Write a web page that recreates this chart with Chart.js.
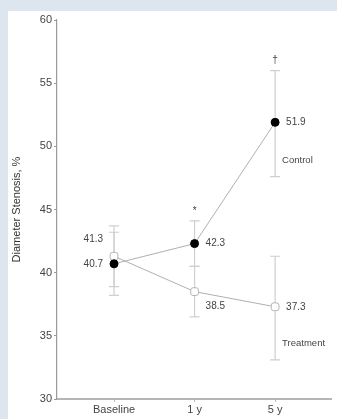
<!DOCTYPE html>
<html>
<head>
<meta charset="utf-8">
<script src="https://cdn.jsdelivr.net/npm/chart.js@4.4.0/dist/chart.umd.min.js"></script>
<style>
  html, body { margin: 0; padding: 0; background: #dde5ef; }
  #wrap { width: 337px; height: 419px; position: relative; }
</style>
</head>
<body>
<div id="wrap"><canvas id="stenosis" width="337" height="419"></canvas></div>
<script>
"use strict";

// data
var categories = ["Baseline", "1 y", "5 y"];
var controlMean = [40.7, 42.3, 51.9];
var controlLow = [38.2, 40.5, 47.6];
var controlHigh = [43.2, 44.1, 56.0];
var treatMean = [41.3, 38.5, 37.3];
var treatLow = [38.9, 36.5, 33.1];
var treatHigh = [43.7, 40.5, 41.3];
var sigMarks = ["", "*", "\u2020"];
var yTicks = [30, 35, 40, 45, 50, 55, 60];

var FONT = "'Liberation Sans', Arial, sans-serif";

function toPoints(arr) {
  return arr.map(function (v, i) { return { x: i, y: v }; });
}

// white panel behind the plot
var panelPlugin = {
  id: "panel",
  beforeDraw: function (chart) {
    var ctx = chart.ctx;
    ctx.save();
    ctx.fillStyle = "#ffffff";
    ctx.fillRect(8, 11, chart.width - 8, chart.height - 11);
    ctx.restore();
  }
};

// error bars, significance marks, value labels
var extrasPlugin = {
  id: "extras",
  beforeDatasetsDraw: function (chart) {
    var ctx = chart.ctx;
    var xs = chart.scales.x, ys = chart.scales.y;
    ctx.save();
    ctx.strokeStyle = "#cfcfcf";
    ctx.lineWidth = 1.2;
    [[controlLow, controlHigh], [treatLow, treatHigh]].forEach(function (pair) {
      for (var i = 0; i < categories.length; i++) {
        var x = xs.getPixelForValue(i);
        var y1 = ys.getPixelForValue(pair[0][i]);
        var y2 = ys.getPixelForValue(pair[1][i]);
        ctx.beginPath();
        ctx.moveTo(x, y1); ctx.lineTo(x, y2);
        ctx.moveTo(x - 5, y1); ctx.lineTo(x + 5, y1);
        ctx.moveTo(x - 5, y2); ctx.lineTo(x + 5, y2);
        ctx.stroke();
      }
    });
    ctx.restore();
  },
  afterDatasetsDraw: function (chart) {
    var ctx = chart.ctx;
    var xs = chart.scales.x, ys = chart.scales.y;
    ctx.save();
    ctx.fillStyle = "#444";
    ctx.font = "10px " + FONT;
    ctx.textBaseline = "middle";

    // significance marks above the upper whisker
    ctx.textAlign = "center";
    for (var i = 0; i < categories.length; i++) {
      if (!sigMarks[i]) continue;
      var top = Math.max(controlHigh[i], treatHigh[i]);
      ctx.fillText(sigMarks[i], xs.getPixelForValue(i), ys.getPixelForValue(top) - 10);
    }

    // value labels
    function label(val, i, dx, dy) {
      ctx.textAlign = dx < 0 ? "right" : "left";
      ctx.fillText(val.toFixed(1), xs.getPixelForValue(i) + dx, ys.getPixelForValue(val) + dy);
    }
    label(controlMean[0], 0, -11, 0);
    label(treatMean[0], 0, -11, -17);
    label(controlMean[1], 1, 11, 0);
    label(treatMean[1], 1, 11, 15);
    label(controlMean[2], 2, 11, 0);
    label(treatMean[2], 2, 11, 0);

    // series names
    ctx.font = "9.5px " + FONT;
    ctx.textAlign = "left";
    ctx.fillText("Control", xs.getPixelForValue(2) + 7, ys.getPixelForValue(controlMean[2]) + 38);
    ctx.fillText("Treatment", xs.getPixelForValue(2) + 7, ys.getPixelForValue(treatMean[2]) + 37);
    ctx.restore();
  }
};

var stenosis = document.getElementById("stenosis").getContext("2d");

var diagramStenosis = new Chart(stenosis, {
  type: "line",
  data: {
    datasets: [
      {
        label: "Control",
        data: toPoints(controlMean),
        borderColor: "#b0b0b0",
        borderWidth: 1,
        backgroundColor: "#000000",
        pointBackgroundColor: "#000000",
        pointBorderColor: "#000000",
        pointRadius: 4,
        pointStyle: "circle",
        tension: 0,
      },
      {
        label: "Treatment",
        data: toPoints(treatMean),
        borderColor: "#b0b0b0",
        borderWidth: 1,
        pointBackgroundColor: "#ffffff",
        pointBorderColor: "#b5b5b5",
        pointBorderWidth: 1,
        pointRadius: 4.5,
        pointStyle: "rectRounded",
        tension: 0,
      },
    ],
  },
  options: {
    responsive: false,
    animation: false,
    layout: { padding: { left: 10, top: 20, right: 0, bottom: 0 } },
    plugins: {
      legend: { display: false },
      tooltip: { enabled: false },
    },
    scales: {
      x: {
        type: "linear",
        min: -0.708,
        max: 2.70,
        afterBuildTicks: function (axis) {
          axis.ticks = categories.map(function (c, i) { return { value: i }; });
        },
        afterFit: function (axis) { axis.height = 20; },
        ticks: {
          callback: function (v) { return categories[v]; },
          color: "#444",
          font: { family: FONT, size: 11 },
          padding: 1,
          maxRotation: 0,
        },
        grid: {
          drawOnChartArea: false,
          drawTicks: true,
          tickLength: 3,
          color: "#bdbdbd",
        },
        border: { color: "#b5b5b5", width: 2 },
      },
      y: {
        min: 30,
        max: 60,
        afterBuildTicks: function (axis) {
          axis.ticks = yTicks.map(function (v) { return { value: v }; });
        },
        afterFit: function (axis) { axis.width = 47; },
        ticks: {
          color: "#444",
          font: { family: FONT, size: 11 },
          padding: 2,
        },
        grid: {
          drawOnChartArea: false,
          drawTicks: true,
          tickLength: 3,
          color: "#9a9a9a",
        },
        border: { color: "#9a9a9a", width: 1.2 },
        title: {
          display: true,
          text: "Diameter Stenosis, %",
          color: "#333",
          font: { family: FONT, size: 11 },
          padding: { top: 0, bottom: 2 },
        },
      },
    },
  },
  plugins: [panelPlugin, extrasPlugin],
});
</script>
</body>
</html>
